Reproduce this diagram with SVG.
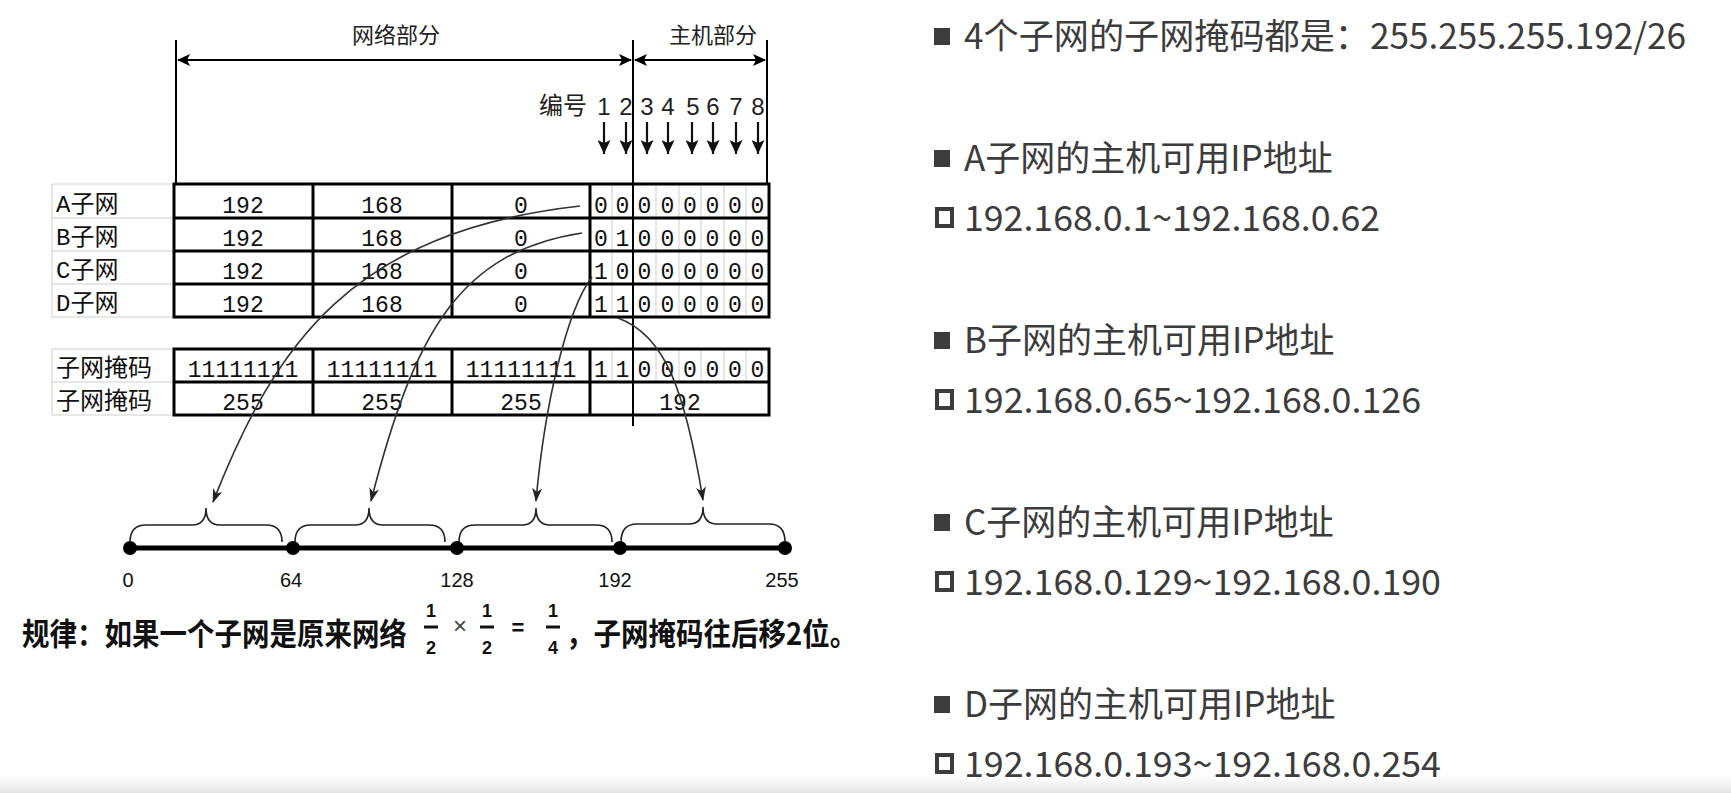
<svg xmlns="http://www.w3.org/2000/svg" width="1731" height="793" viewBox="0 0 1731 793">
<defs>
<style>
.thick{stroke:#000;stroke-width:3;fill:none}
.thin{stroke:#000;stroke-width:2;fill:none}
.grid{stroke:#cfcfcf;stroke-width:1;fill:none}
.lbl{font-family:"Liberation Mono","Noto Sans CJK SC",monospace;font-size:24px;fill:#111}
.cn{font-family:"Liberation Mono","Noto Sans CJK SC",monospace;font-size:23px;fill:#111;text-anchor:middle}
.hdr{font-family:"Noto Sans CJK SC",sans-serif;font-size:22px;fill:#222;text-anchor:middle}
.idx{font-family:"Liberation Sans",sans-serif;font-size:24px;fill:#222;text-anchor:middle}
.axis{font-family:"Liberation Sans",sans-serif;font-size:20px;fill:#111;text-anchor:middle}
.conn{stroke:#333;stroke-width:1.6;fill:none}
.rt{font-family:"Noto Sans CJK SC",sans-serif;font-size:35px;fill:#3c3c3c}
.rule{font-family:"Noto Sans CJK SC",sans-serif;font-size:27.5px;font-weight:bold;fill:#111}
.frac{font-family:"Liberation Sans",sans-serif;font-size:18px;font-weight:bold;fill:#111;text-anchor:middle}
.sq{fill:#3c3c3c}
.hsq{fill:none;stroke:#3c3c3c;stroke-width:4}
</style>
<marker id="tip" viewBox="0 0 14 10" refX="13" refY="5" markerWidth="14" markerHeight="10" markerUnits="userSpaceOnUse" orient="auto"><path d="M0,0 L14,5 L0,10 L4,5 z" fill="#222"/></marker>
<marker id="dim" viewBox="0 0 13 12" refX="12" refY="6" markerWidth="13" markerHeight="12" markerUnits="userSpaceOnUse" orient="auto-start-reverse"><path d="M0,0 L13,6 L0,12 L3,6 z" fill="#000"/></marker>
<marker id="down" viewBox="0 0 14 13" refX="14" refY="6.5" markerWidth="14" markerHeight="13" markerUnits="userSpaceOnUse" orient="auto"><path d="M0,0 L14,6.5 L0,13 L3,6.5 z" fill="#111"/></marker>
<linearGradient id="fade" x1="0" y1="0" x2="0" y2="1"><stop offset="0" stop-color="#ffffff"/><stop offset="1" stop-color="#e4e4e4"/></linearGradient>
</defs>
<rect width="1731" height="793" fill="#fff"/>
<rect x="0" y="776" width="1731" height="17" fill="url(#fade)"/>

<!-- header dimensions -->
<g id="header">
<line class="thin" x1="176" y1="40" x2="176" y2="184"/>
<line class="thin" x1="767" y1="40" x2="767" y2="184"/>
<text class="hdr" x="396" y="43">网络部分</text>
<text class="hdr" x="713" y="43">主机部分</text>
<text x="539" y="114" style="font-family:'Noto Sans CJK SC',sans-serif;font-size:24px;fill:#222">编号</text>
<text class="idx" x="604" y="115">1</text>
<text class="idx" x="626" y="115">2</text>
<text class="idx" x="647" y="115">3</text>
<text class="idx" x="668" y="115">4</text>
<text class="idx" x="693" y="115">5</text>
<text class="idx" x="713" y="115">6</text>
<text class="idx" x="736" y="115">7</text>
<text class="idx" x="758" y="115">8</text>
</g>

<!-- subnet table -->
<g id="label-cells">
<path class="grid" d="M52,184 H174 M52,218 H174 M52,251 H174 M52,284 H174 M52,317 H174 M52,184 V317 M52,349 H174 M52,382 H174 M52,415 H174 M52,349 V415"/>
<text class="lbl" x="56" y="212">A子网</text>
<text class="lbl" x="56" y="245">B子网</text>
<text class="lbl" x="56" y="278">C子网</text>
<text class="lbl" x="56" y="311">D子网</text>
<text class="lbl" x="56" y="376">子网掩码</text>
<text class="lbl" x="56" y="409">子网掩码</text>
</g>

<g id="subnet-table">
<path class="grid" d="M612,184 V317 M656,184 V317 M679,184 V317 M701,184 V317 M724,184 V317 M746,184 V317"/>
<rect class="thick" x="174" y="184" width="595" height="133"/>
<path class="thick" d="M174,218 H769 M174,251 H769 M174,284 H769 M313,184 V317 M452,184 V317 M590,184 V317"/>
<g class="cn">
<text x="243" y="213">192</text><text x="382" y="213">168</text><text x="521" y="213">0</text>
<text x="243" y="246">192</text><text x="382" y="246">168</text><text x="521" y="246">0</text>
<text x="243" y="279">192</text><text x="382" y="279">168</text><text x="521" y="279">0</text>
<text x="243" y="312">192</text><text x="382" y="312">168</text><text x="521" y="312">0</text>
</g>
<g class="cn">
<text x="601" y="213">0</text><text x="622.5" y="213">0</text><text x="644.5" y="213">0</text><text x="667.5" y="213">0</text><text x="690" y="213">0</text><text x="712.5" y="213">0</text><text x="735" y="213">0</text><text x="757.5" y="213">0</text>
<text x="601" y="246">0</text><text x="622.5" y="246">1</text><text x="644.5" y="246">0</text><text x="667.5" y="246">0</text><text x="690" y="246">0</text><text x="712.5" y="246">0</text><text x="735" y="246">0</text><text x="757.5" y="246">0</text>
<text x="601" y="279">1</text><text x="622.5" y="279">0</text><text x="644.5" y="279">0</text><text x="667.5" y="279">0</text><text x="690" y="279">0</text><text x="712.5" y="279">0</text><text x="735" y="279">0</text><text x="757.5" y="279">0</text>
<text x="601" y="312">1</text><text x="622.5" y="312">1</text><text x="644.5" y="312">0</text><text x="667.5" y="312">0</text><text x="690" y="312">0</text><text x="712.5" y="312">0</text><text x="735" y="312">0</text><text x="757.5" y="312">0</text>
</g>
</g>

<g id="mask-table">
<path class="grid" d="M612,349 V382 M656,349 V382 M679,349 V382 M701,349 V382 M724,349 V382 M746,349 V382"/>
<rect class="thick" x="174" y="349" width="595" height="66"/>
<path class="thick" d="M174,382 H769 M313,349 V415 M452,349 V415 M590,349 V415"/>
<g class="cn">
<text x="243" y="377">11111111</text><text x="382" y="377">11111111</text><text x="521" y="377">11111111</text>
<text x="601" y="377">1</text><text x="622.5" y="377">1</text><text x="644.5" y="377">0</text><text x="667.5" y="377">0</text><text x="690" y="377">0</text><text x="712.5" y="377">0</text><text x="735" y="377">0</text><text x="757.5" y="377">0</text>
<text x="243" y="410">255</text><text x="382" y="410">255</text><text x="521" y="410">255</text>
<text x="680" y="410">192</text>
</g>
</g>

<!-- number line -->
<g id="number-line">
<line x1="130" y1="548" x2="785" y2="548" stroke="#000" stroke-width="5"/>
<circle cx="130" cy="548" r="7" fill="#000"/>
<circle cx="293" cy="548" r="7" fill="#000"/>
<circle cx="457" cy="548" r="7" fill="#000"/>
<circle cx="620" cy="548" r="7" fill="#000"/>
<circle cx="785" cy="548" r="7" fill="#000"/>
<text class="axis" x="128" y="587">0</text>
<text class="axis" x="291" y="587">64</text>
<text class="axis" x="457" y="587">128</text>
<text class="axis" x="615" y="587">192</text>
<text class="axis" x="782" y="587">255</text>
</g>
<g id="braces" fill="none" stroke="#222" stroke-width="1.6">
<path d="M130,542 Q130,525 146,525 H192 Q206,525 206,508 Q206,525 220,525 H266 Q282,525 282,542"/>
<path d="M295,542 Q295,525 311,525 H355 Q369,525 369,508 Q369,525 383,525 H429 Q445,525 445,542"/>
<path d="M459,542 Q459,525 475,525 H522 Q536,525 536,508 Q536,525 550,525 H596 Q612,525 612,542"/>
<path d="M621,542 Q621,524 637,524 H689 Q703,524 703,507 Q703,524 717,524 H769 Q785,524 785,542"/>
</g>

<!-- connectors -->
<g id="connectors">
<line class="thin" x1="633" y1="40" x2="633" y2="426"/>
<line x1="178" y1="60" x2="631" y2="60" stroke="#000" stroke-width="2" marker-start="url(#dim)" marker-end="url(#dim)"/>
<line x1="635" y1="60" x2="765" y2="60" stroke="#000" stroke-width="2" marker-start="url(#dim)" marker-end="url(#dim)"/>
<g stroke="#111" stroke-width="2.2" marker-end="url(#down)">
<line x1="604" y1="122" x2="604" y2="154"/>
<line x1="626" y1="122" x2="626" y2="154"/>
<line x1="647" y1="122" x2="647" y2="154"/>
<line x1="668" y1="122" x2="668" y2="154"/>
<line x1="692" y1="122" x2="692" y2="154"/>
<line x1="713" y1="122" x2="713" y2="154"/>
<line x1="736" y1="122" x2="736" y2="154"/>
<line x1="758" y1="122" x2="758" y2="154"/>
</g>
<path class="conn" d="M580,206 C350,232 275,345 213,502" marker-end="url(#tip)"/>
<path class="conn" d="M582,233 C460,252 415,330 371,501" marker-end="url(#tip)"/>
<path class="conn" d="M592,277 C568,308 545,400 536,501" marker-end="url(#tip)"/>
<path class="conn" d="M618,318 C665,335 685,390 703,500" marker-end="url(#tip)"/>
</g>

<!-- rule text -->
<g id="rule">
<text class="rule" x="22" y="645" transform="matrix(1,0,0,1.12,0,-77.4)">规律：如果一个子网是原来网络</text>
<text class="frac" x="431" y="617">1</text>
<line x1="424" y1="627" x2="438" y2="627" stroke="#111" stroke-width="3"/>
<text class="frac" x="431" y="654">2</text>
<text x="460" y="634" style="font-family:'Liberation Sans',sans-serif;font-size:24px;fill:#444;text-anchor:middle">×</text>
<text class="frac" x="487" y="617">1</text>
<line x1="480" y1="627" x2="494" y2="627" stroke="#111" stroke-width="3"/>
<text class="frac" x="487" y="654">2</text>
<text x="518" y="635" style="font-family:'Liberation Sans',sans-serif;font-size:22px;font-weight:bold;fill:#111;text-anchor:middle">=</text>
<text class="frac" x="553" y="617">1</text>
<line x1="546" y1="627" x2="560" y2="627" stroke="#111" stroke-width="3"/>
<text class="frac" x="553" y="654">4</text>
<text class="rule" x="566" y="645" transform="matrix(1,0,0,1.12,0,-77.4)">，子网掩码往后移2位。</text>
</g>

<!-- right side notes -->
<g id="note-mask">
<rect class="sq" x="934" y="28" width="16" height="17"/>
<text class="rt" x="964" y="49" textLength="722" lengthAdjust="spacingAndGlyphs">4个子网的子网掩码都是：255.255.255.192/26</text>
</g>
<g id="note-a">
<rect class="sq" x="934" y="150" width="16" height="17"/>
<text class="rt" x="964" y="171">A子网的主机可用IP地址</text>
<rect class="hsq" x="937" y="209" width="15" height="17"/>
<text class="rt" x="964" y="231" textLength="416" lengthAdjust="spacingAndGlyphs">192.168.0.1~192.168.0.62</text>
</g>
<g id="note-b">
<rect class="sq" x="934" y="332" width="16" height="17"/>
<text class="rt" x="964" y="353">B子网的主机可用IP地址</text>
<rect class="hsq" x="937" y="391" width="15" height="17"/>
<text class="rt" x="964" y="413" textLength="457" lengthAdjust="spacingAndGlyphs">192.168.0.65~192.168.0.126</text>
</g>
<g id="note-c">
<rect class="sq" x="934" y="514" width="16" height="17"/>
<text class="rt" x="964" y="535">C子网的主机可用IP地址</text>
<rect class="hsq" x="937" y="573" width="15" height="17"/>
<text class="rt" x="964" y="595" textLength="477" lengthAdjust="spacingAndGlyphs">192.168.0.129~192.168.0.190</text>
</g>
<g id="note-d">
<rect class="sq" x="934" y="696" width="16" height="17"/>
<text class="rt" x="964" y="717">D子网的主机可用IP地址</text>
<rect class="hsq" x="937" y="755" width="15" height="17"/>
<text class="rt" x="964" y="777" textLength="477" lengthAdjust="spacingAndGlyphs">192.168.0.193~192.168.0.254</text>
</g>
</svg>
